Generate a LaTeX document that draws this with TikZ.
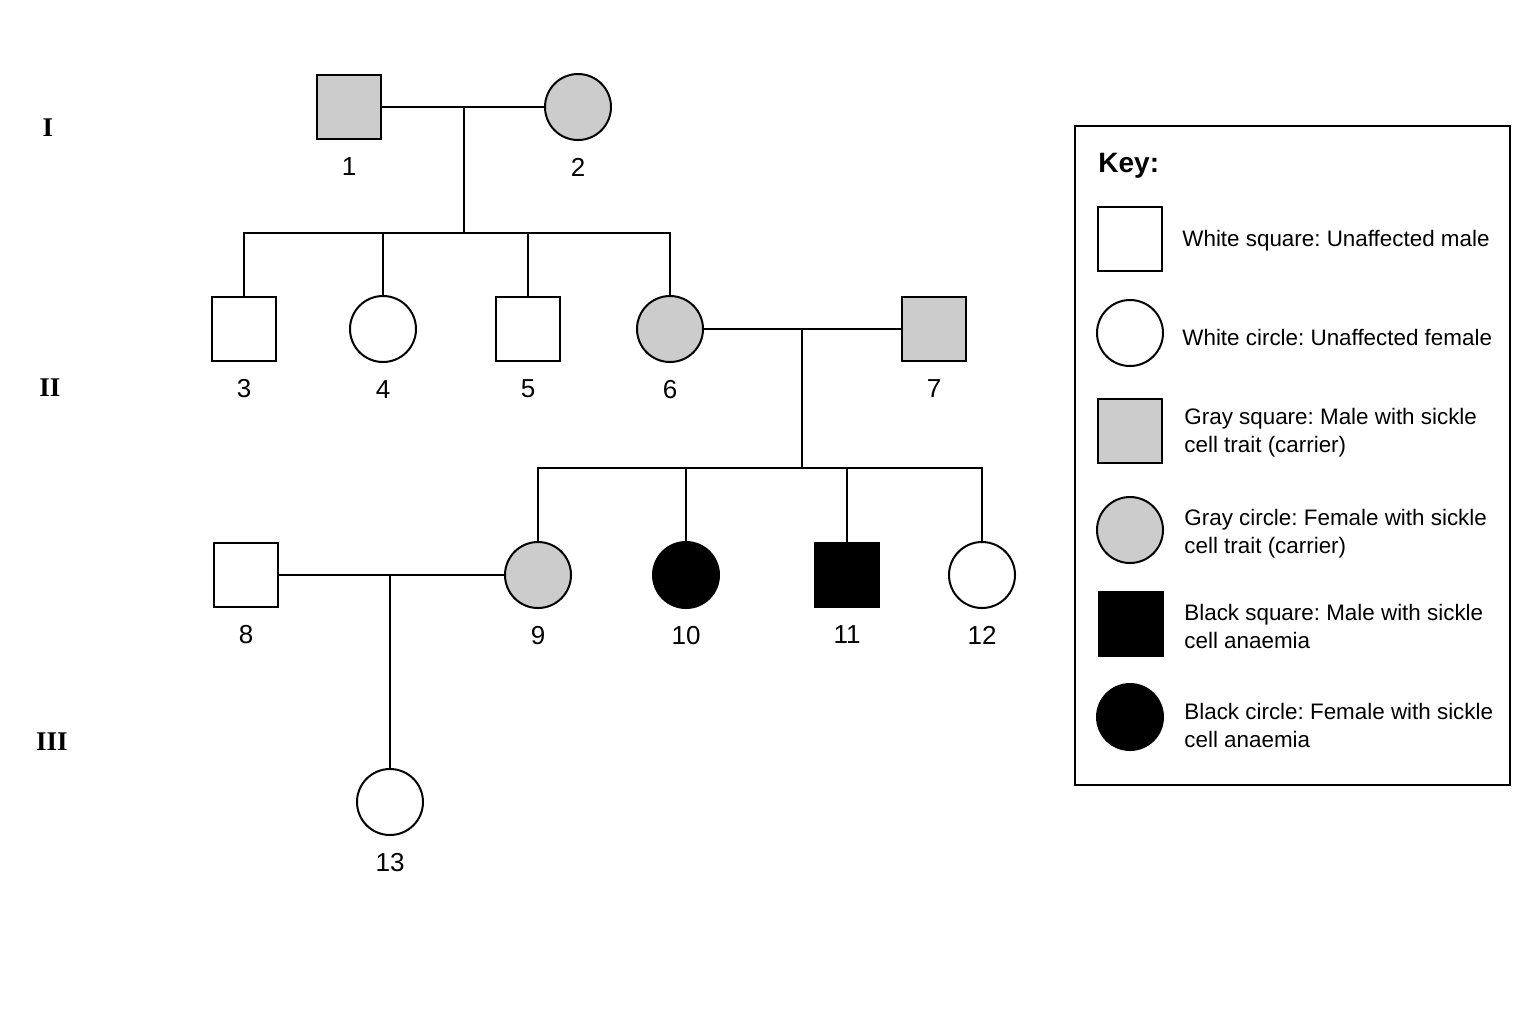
\documentclass[tikz,border=0pt]{standalone}
\usepackage{fontspec}
\setmainfont{Liberation Sans}
\newfontfamily\genfont{Liberation Serif}
\usetikzlibrary{calc}
\frenchspacing
\tikzset{
  male/.style={draw,line width=1pt,minimum size=32pt,inner sep=0pt},
  female/.style={draw,circle,line width=1pt,minimum size=33pt,inner sep=0pt},
  unaff/.style={fill=white},
  carrier/.style={fill=gray!40},
  affected/.style={fill=black},
  every label/.style={font=\fontsize{13}{15}\selectfont,inner sep=0pt},
  link/.style={line width=1pt},
  gen/.style={font=\genfont\bfseries\fontsize{13.5}{16}\selectfont},
  keytext/.style={anchor=west,inner sep=0pt,align=left,font=\fontsize{11.2}{14}\selectfont}
}
\begin{document}
\begin{tikzpicture}[x=0.5pt,y=-0.5pt,label distance=8.5pt]
        \useasboundingbox (0,0) rectangle (1536,1024);
        % generations
        \node[gen] (g1) at (48,128) {I};
        \node[gen] (g2) at (50,388) {II};
        \node[gen] (g3) at (52,742) {III};
        % generation I
        \node[male,carrier,label=below:1] (i1) at (349,107) {};
        \node[female,carrier,label=below:2] (i2) at (578,107) {};
        % generation II
        \node[male,unaff,label=below:3] (i3) at (244,329) {};
        \node[female,unaff,label=below:4] (i4) at (383,329) {};
        \node[male,unaff,label=below:5] (i5) at (528,329) {};
        \node[female,carrier,label=below:6] (i6) at (670,329) {};
        \node[male,carrier,label=below:7] (i7) at (934,329) {};
        % generation III
        \node[male,unaff,label=below:8] (i8) at (246,575) {};
        \node[female,carrier,label=below:9] (i9) at (538,575) {};
        \node[female,affected,label=below:10] (i10) at (686,575) {};
        \node[male,affected,label=below:11] (i11) at (847,575) {};
        \node[female,unaff,label=below:12] (i12) at (982,575) {};
        \node[female,unaff,label=below:13] (i13) at (390,802) {};
        % couples and sibships
        \coordinate (m12) at ($(i1)!0.5!(i2)$);
        \coordinate (s1) at ($(m12)+(0,126)$);
        \coordinate (m67) at ($(i6)!0.5!(i7)$);
        \coordinate (s2) at ($(m67)+(0,139)$);
        \coordinate (m89) at (390,575);
        \draw[link] (i1) -- (i2);
        \draw[link] (m12) -- (s1);
        \foreach \c in {i3,i4,i5,i6}
            \draw[link] (\c) |- (s1);
        \draw[link] (i6) -- (i7);
        \draw[link] (m67) -- (s2);
        \foreach \c in {i9,i10,i11,i12}
            \draw[link] (\c) |- (s2);
        \draw[link] (i8) -- (i9);
        \draw[link] (m89) -- (i13);
        % key
        \draw[line width=1pt] (1075,126) rectangle (1510,785);
        \node[anchor=west,inner sep=0pt,font=\fontsize{14}{16}\selectfont\bfseries] (key) at (1098,166) {Key:};
        \node[male,unaff] (k1) at (1130,239) {};
        \node[female,unaff] (k2) at (1130,333) {};
        \node[male,carrier] (k3) at (1130,431) {};
        \node[female,carrier] (k4) at (1130,530) {};
        \node[male,affected] (k5) at (1131,624) {};
        \node[female,affected] (k6) at (1130,717) {};
        \node[keytext] (t1) at (1182,241) {White square: Unaffected male};
        \node[keytext] (t2) at (1182,337) {White circle: Unaffected female};
        \node[keytext] (t3) at (1184,433) {Gray square: Male with sickle\\cell trait (carrier)};
        \node[keytext] (t4) at (1184,534) {Gray circle: Female with sickle\\cell trait (carrier)};
        \node[keytext] (t5) at (1184,626) {Black square: Male with sickle\\cell anaemia};
        \node[keytext] (t6) at (1184,725) {Black circle: Female with sickle\\cell anaemia};
    \end{tikzpicture}
\end{document}
